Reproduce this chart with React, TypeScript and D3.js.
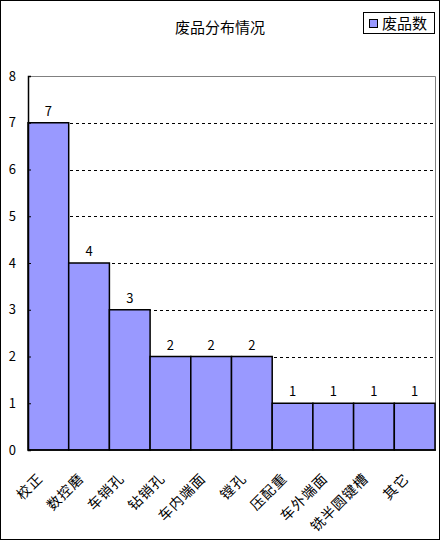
import * as d3 from 'd3';
import { useEffect, useRef } from 'react';

const categories = ['校正', '数控磨', '车销孔', '钻销孔', '车内端面', '镗孔', '压配重', '车外端面', '铣半圆键槽', '其它'];
const values = [7, 4, 3, 2, 2, 2, 1, 1, 1, 1];
const yTicks = [0, 1, 2, 3, 4, 5, 6, 7, 8];

const W = 440;
const H = 540;
const FONT = '"Noto Sans CJK SC", "DejaVu Sans", sans-serif';

const App = () => {
  const ref = useRef<SVGSVGElement | null>(null);

  useEffect(() => {
    if (!ref.current) return;
    const svg = d3.select(ref.current);
    svg.selectAll('*').remove();

    const left = 28;
    const right = 435;
    const top = 76;
    const bottom = 450;

    const x = d3.scaleBand<string>().domain(categories).range([left, right]).padding(0);
    const y = d3.scaleLinear().domain([0, 8]).range([bottom, top]);

    // outer frame
    svg.append('rect')
      .attr('x', 0.5).attr('y', 0.5)
      .attr('width', W - 1).attr('height', H - 1)
      .attr('fill', 'white').attr('stroke', 'black');

    // title
    svg.append('text')
      .attr('x', 220).attr('y', 33)
      .attr('text-anchor', 'middle')
      .attr('font-family', FONT).attr('font-size', 15)
      .text('废品分布情况');

    // legend
    const lg = svg.append('g');
    lg.append('rect')
      .attr('x', 363.5).attr('y', 12.5).attr('width', 71).attr('height', 21)
      .attr('fill', 'white').attr('stroke', 'black');
    lg.append('rect')
      .attr('x', 369.5).attr('y', 19.5).attr('width', 8).attr('height', 8)
      .attr('fill', '#9999ff').attr('stroke', 'black');
    lg.append('text')
      .attr('x', 382).attr('y', 29)
      .attr('font-family', FONT).attr('font-size', 15)
      .text('废品数');

    // plot frame top/right (gray)
    svg.append('path')
      .attr('d', `M${left},${top + 0.5}H${right + 0.5}V${bottom}`)
      .attr('fill', 'none').attr('stroke', '#808080');

    // gridlines
    svg.append('g')
      .selectAll('line')
      .data(yTicks.filter((t) => t > 0 && t < 8))
      .enter()
      .append('line')
      .attr('x1', left).attr('x2', right)
      .attr('y1', (d) => Math.round(y(d)) + 0.5).attr('y2', (d) => Math.round(y(d)) + 0.5)
      .attr('stroke', 'black').attr('stroke-dasharray', '3,3');

    // bars
    svg.append('g')
      .selectAll('rect')
      .data(values)
      .enter()
      .append('rect')
      .attr('x', (_d, i) => x(categories[i]) as number)
      .attr('y', (d) => y(d))
      .attr('width', x.bandwidth())
      .attr('height', (d) => bottom - y(d))
      .attr('fill', '#9999ff')
      .attr('stroke', 'black')
      .attr('stroke-width', 1.5);

    // bar value labels
    svg.append('g')
      .selectAll('text')
      .data(values)
      .enter()
      .append('text')
      .attr('x', (_d, i) => (x(categories[i]) as number) + x.bandwidth() / 2)
      .attr('y', (d) => y(d) - 7)
      .attr('text-anchor', 'middle')
      .attr('font-family', FONT).attr('font-size', 13)
      .text((d) => d);

    // y axis
    const yAxis = d3.axisLeft(y).tickValues(yTicks).tickSize(-3).tickPadding(12).tickFormat(d3.format('d'));
    const ga = svg.append('g').attr('transform', `translate(${left},0)`).call(yAxis);
    ga.select('.domain').attr('stroke', 'black').attr('stroke-width', 1.5);
    ga.selectAll('.tick line').attr('stroke', 'black');
    ga.selectAll('.tick text').attr('font-family', FONT).attr('font-size', 13).attr('fill', 'black');

    // x axis line
    svg.append('line')
      .attr('x1', left).attr('x2', right + 1)
      .attr('y1', bottom).attr('y2', bottom)
      .attr('stroke', 'black').attr('stroke-width', 1.5);

    // x labels rotated
    svg.append('g')
      .selectAll('text')
      .data(categories)
      .enter()
      .append('text')
      .attr('transform', (d) => {
        const cx = (x(d) as number) + x.bandwidth() / 2 - 8;
        return `translate(${cx},${bottom + 26}) rotate(-45)`;
      })
      .attr('text-anchor', 'end')
      .attr('dy', '0.35em')
      .attr('letter-spacing', 1)
      .attr('font-family', FONT).attr('font-size', 14)
      .text((d) => d);
  }, []);

  return <svg ref={ref} width={W} height={H} style={{ display: 'block', position: 'absolute', left: 0, top: 0 }} />;
};

export default App;
